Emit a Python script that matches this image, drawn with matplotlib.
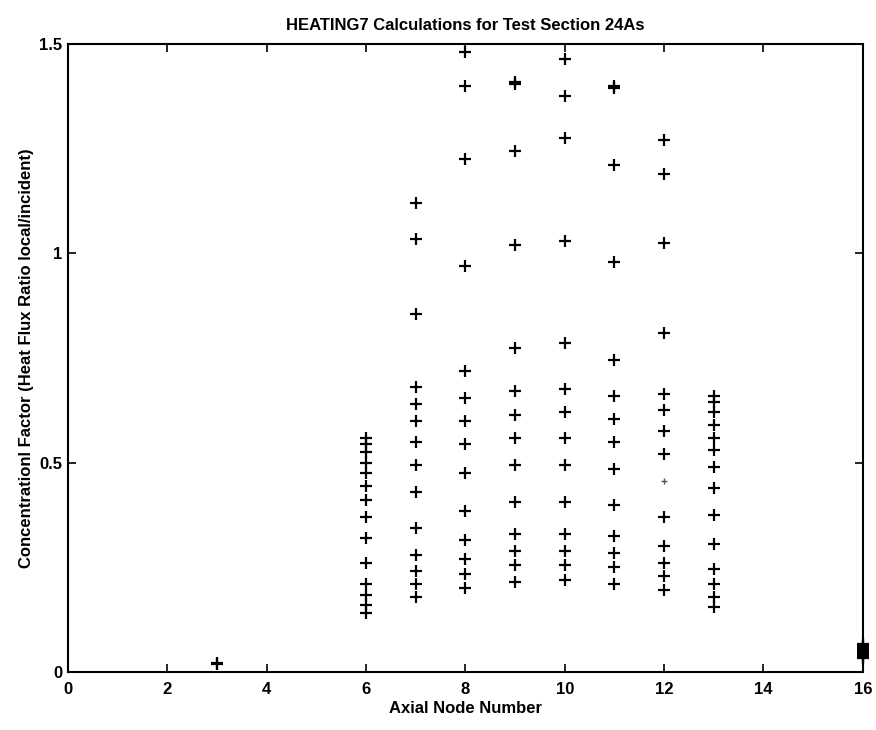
import matplotlib
matplotlib.use("Agg")
import matplotlib.pyplot as plt

plt.rcParams['font.family'] = ['Liberation Sans', 'DejaVu Sans']

# Concentration factor at each axial node (one list per node)
nodes = [3, 6, 7, 8, 9, 10, 11, 12, 13, 16]
node3 = [0.018, 0.022]
node6 = [0.56, 0.545, 0.525, 0.50, 0.475, 0.445, 0.41, 0.37, 0.32, 0.26,
         0.21, 0.185, 0.16, 0.14]
node7 = [1.12, 1.035, 0.855, 0.68, 0.64, 0.60, 0.55, 0.495, 0.43, 0.345,
         0.28, 0.24, 0.21, 0.18]
node8 = [1.48, 1.40, 1.225, 0.97, 0.72, 0.655, 0.60, 0.545, 0.475, 0.385,
         0.315, 0.27, 0.235, 0.20]
node9 = [1.41, 1.405, 1.245, 1.02, 0.775, 0.67, 0.615, 0.56, 0.495, 0.405,
         0.33, 0.29, 0.255, 0.215]
node10 = [1.465, 1.375, 1.275, 1.03, 0.785, 0.675, 0.62, 0.56, 0.495,
          0.405, 0.33, 0.29, 0.255, 0.22]
node11 = [1.40, 1.395, 1.21, 0.98, 0.745, 0.66, 0.605, 0.55, 0.485, 0.40,
          0.325, 0.285, 0.25, 0.21]
node12 = [1.27, 1.19, 1.025, 0.81, 0.665, 0.625, 0.575, 0.52, 0.37, 0.30,
          0.26, 0.23, 0.195]
node12_faint = [0.455]
node13 = [0.66, 0.645, 0.62, 0.59, 0.56, 0.53, 0.49, 0.44, 0.375, 0.305,
          0.245, 0.21, 0.18, 0.155]
node16 = [0.033, 0.038, 0.043, 0.048, 0.053, 0.058, 0.063, 0.067]

series = [node3, node6, node7, node8, node9, node10, node11, node12,
          node13, node16]

xticks = [0, 2, 4, 6, 8, 10, 12, 14, 16]
yticks = [0, 0.5, 1, 1.5]
ytick_labels = ['0', '0.5', '1', '1.5']

fig = plt.figure(figsize=(8.76, 7.30), dpi=100)
ax = fig.add_axes([0.0776, 0.0795, 0.9074, 0.8602])

for n, vals in zip(nodes, series):
    ax.plot([n] * len(vals), vals, linestyle='none', marker='+',
            color='black', markersize=8, markeredgewidth=1.6,
            clip_on=False, zorder=3)
ax.plot([12] * len(node12_faint), node12_faint, linestyle='none',
        marker='+', color='#555555', markersize=4, markeredgewidth=1.0)

ax.set_xlim(0, 16)
ax.set_ylim(0, 1.5)
ax.set_xticks(xticks)
ax.set_xticklabels([str(t) for t in xticks])
ax.set_yticks(yticks)
ax.set_yticklabels(ytick_labels)

ax.tick_params(direction='in', top=True, right=True, length=6, width=1.2,
               labelsize=12)
ax.tick_params(axis='x', pad=7)
ax.tick_params(axis='y', pad=4)
for lab in ax.get_xticklabels() + ax.get_yticklabels():
    lab.set_fontweight('bold')
for sp in ax.spines.values():
    sp.set_linewidth(1.5)

ax.set_title('HEATING7 Calculations for Test Section 24As',
             fontsize=12, fontweight='bold', pad=10)
ax.set_xlabel('Axial Node Number', fontsize=12, fontweight='bold',
              labelpad=3)
ax.set_ylabel('Concentrationl Factor (Heat Flux Ratio local/incident)',
              fontsize=12, fontweight='bold', labelpad=4)

fig.savefig('out.png', dpi=100)
